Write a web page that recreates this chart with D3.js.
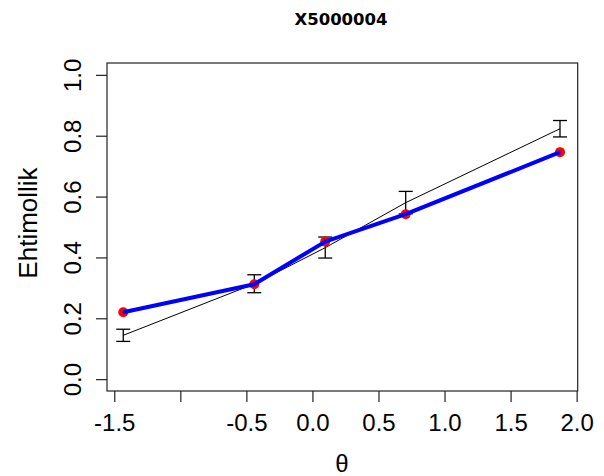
<!DOCTYPE html>
<html>
<head>
<meta charset="utf-8">
<script src="https://cdn.jsdelivr.net/npm/d3@7"></script>
<style>
html,body{margin:0;padding:0;background:#fff;}
svg{display:block;}
text{font-family:"Liberation Sans", Arial, sans-serif;}
</style>
</head>
<body>
<svg id="chart" width="604" height="476"></svg>
<script>
const title = "X5000004";
const xLabel = "θ";
const yLabel = "Ehtimollik";
const theta = [-1.432, -0.440, 0.097, 0.706, 1.874];
const expected = [0.220, 0.312, 0.452, 0.542, 0.746];
const observed = [0.144, 0.313, 0.432, 0.580, 0.823];
const lower = [0.124, 0.284, 0.398, 0.543, 0.796];
const upper = [0.164, 0.343, 0.467, 0.617, 0.850];
const xTicks = [-1.5, -1.0, -0.5, 0.0, 0.5, 1.0, 1.5, 2.0];
const xTickLabels = ["-1.5", "", "-0.5", "0.0", "0.5", "1.0", "1.5", "2.0"];
const yTicks = [0.0, 0.2, 0.4, 0.6, 0.8, 1.0];
const yTickLabels = ["0.0", "0.2", "0.4", "0.6", "0.8", "1.0"];

const svg = d3.select("#chart");
const pLeft = 107, pRight = 577.7, pTop = 63, pBottom = 391;
const x = d3.scaleLinear().domain([-1.555, 2.008]).range([pLeft, pRight]);
const y = d3.scaleLinear().domain([-0.039, 1.039]).range([pBottom, pTop]);

// frame
svg.append("rect").attr("x", pLeft).attr("y", pTop)
  .attr("width", pRight - pLeft).attr("height", pBottom - pTop)
  .attr("fill", "none").attr("stroke", "#222").attr("stroke-width", 1.2);

// x axis
const xAxis = svg.append("g").attr("transform", `translate(0,${pBottom})`)
  .call(d3.axisBottom(x).tickValues(xTicks).tickSize(11).tickSizeOuter(0)
    .tickFormat((d, i) => xTickLabels[i]));
xAxis.select(".domain").remove();
xAxis.selectAll(".tick line").attr("stroke", "#222").attr("stroke-width", 1.2);
xAxis.selectAll(".tick text").attr("font-size", 24).attr("fill", "#000")
  .attr("y", 40).attr("dy", 0);

// y axis
const yAxis = svg.append("g").attr("transform", `translate(${pLeft},0)`)
  .call(d3.axisLeft(y).tickValues(yTicks).tickSize(11).tickSizeOuter(0)
    .tickFormat((d, i) => yTickLabels[i]));
yAxis.select(".domain").remove();
yAxis.selectAll(".tick line").attr("stroke", "#222").attr("stroke-width", 1.2);
yAxis.selectAll(".tick text").attr("font-size", 24).attr("fill", "#000")
  .attr("x", 0).attr("dy", 0)
  .attr("text-anchor", "middle")
  .attr("transform", "translate(-26,0) rotate(-90)")
  .attr("y", 0);

// title & labels
svg.append("text").attr("x", 341).attr("y", 25).attr("text-anchor", "middle")
  .style("font-family", "'DejaVu Sans', sans-serif")
  .attr("font-size", 16.5).attr("font-weight", "bold")
  .text(title);
svg.append("text").attr("x", 342).attr("y", 472).attr("text-anchor", "middle")
  .attr("font-size", 24).text(xLabel);
svg.append("text").attr("transform", `translate(37,223) rotate(-90)`)
  .attr("text-anchor", "middle").attr("font-size", 26).text(yLabel);

const idx = d3.range(theta.length);

// observed line
svg.append("path").datum(idx)
  .attr("d", d3.line().x(i => x(theta[i])).y(i => y(observed[i])))
  .attr("fill", "none").attr("stroke", "#000").attr("stroke-width", 1);

// error bars
const eb = svg.append("g").attr("stroke", "#000").attr("stroke-width", 1.3);
idx.forEach(i => {
  const cx = x(theta[i]);
  eb.append("line").attr("x1", cx).attr("x2", cx).attr("y1", y(lower[i])).attr("y2", y(upper[i]));
  eb.append("line").attr("x1", cx - 7).attr("x2", cx + 7).attr("y1", y(lower[i])).attr("y2", y(lower[i]));
  eb.append("line").attr("x1", cx - 7).attr("x2", cx + 7).attr("y1", y(upper[i])).attr("y2", y(upper[i]));
});

// red points
svg.append("g").selectAll("circle").data(idx).join("circle")
  .attr("cx", i => x(theta[i])).attr("cy", i => y(expected[i]))
  .attr("r", 5).attr("fill", "#ff0000");

// blue expected line
svg.append("path").datum(idx)
  .attr("d", d3.line().x(i => x(theta[i])).y(i => y(expected[i])))
  .attr("fill", "none").attr("stroke", "#0000ff").attr("stroke-width", 4)
  .attr("stroke-linejoin", "round").attr("stroke-linecap", "butt");
svg.append("g").selectAll("circle").data(idx).join("circle")
  .attr("cx", i => x(theta[i])).attr("cy", i => y(expected[i]))
  .attr("r", 1).attr("fill", "#0000ff");
</script>
</body>
</html>
